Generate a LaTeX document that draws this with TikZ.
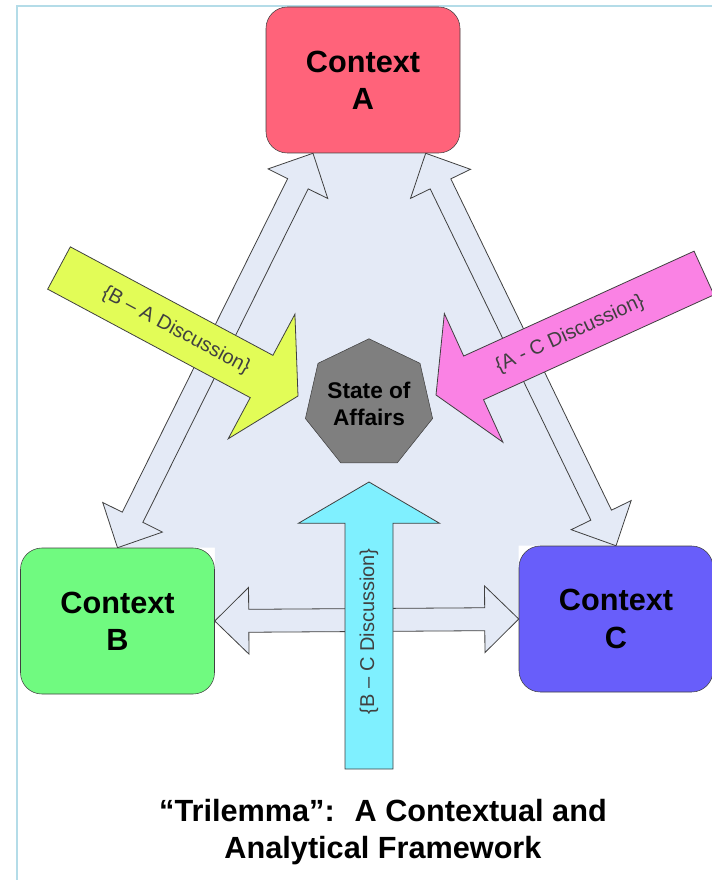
\documentclass[tikz,border=0pt]{standalone}
\usepackage{fontspec}
\setmainfont{Liberation Sans}
\usepackage{tikz}
\usetikzlibrary{calc,shapes.geometric,backgrounds}

\definecolor{ctxa}{RGB}{255,99,122}
\definecolor{ctxb}{RGB}{112,250,128}
\definecolor{ctxc}{RGB}{104,94,250}
\definecolor{talkba}{RGB}{226,252,87}
\definecolor{talkac}{RGB}{250,130,228}
\definecolor{talkbc}{RGB}{127,240,255}
\definecolor{affairs}{RGB}{127,127,127}
\definecolor{linkfill}{RGB}{228,234,246}
\definecolor{framecol}{RGB}{180,220,232}
\definecolor{edgegray}{RGB}{64,64,64}

\tikzset{
	context/.style={draw=edgegray, rounded corners=16pt, minimum width=145.5pt, minimum height=109.5pt,
		align=center, font=\fontsize{23}{28}\selectfont\bfseries},
	linkarrow/.style={draw=edgegray, fill=linkfill, line width=0.6pt},
	talkarrow/.style={draw=edgegray, line width=0.6pt},
	talklabel/.style={text=black!75, font=\fontsize{15}{18}\selectfont},
}

\newcommand{\twoway}[2]{%
	\draw[linkarrow] (#1) -- ($(#1)!25.5pt!(#2)!25pt!90:(#2)$) -- ($(#1)!25.5pt!(#2)!8.6pt!90:(#2)$)
	-- ($(#2)!25.5pt!(#1)!8.6pt!-90:(#1)$) -- ($(#2)!25.5pt!(#1)!25pt!-90:(#1)$) -- (#2)
	-- ($(#2)!25.5pt!(#1)!25pt!90:(#1)$) -- ($(#2)!25.5pt!(#1)!8.6pt!90:(#1)$)
	-- ($(#1)!25.5pt!(#2)!8.6pt!-90:(#2)$) -- ($(#1)!25.5pt!(#2)!25pt!-90:(#2)$) -- cycle;}
\newcommand{\oneway}[3]{%
	\draw[talkarrow, fill=#1] ($(#2)!18pt!90:(#3)$) -- ($(#3)!31pt!(#2)!18pt!-90:(#2)$)
	-- ($(#3)!31pt!(#2)!53pt!-90:(#2)$) -- (#3) -- ($(#3)!31pt!(#2)!53pt!90:(#2)$)
	-- ($(#3)!31pt!(#2)!18pt!90:(#2)$) -- ($(#2)!18pt!-90:(#3)$) -- cycle;}

\begin{document}
\begin{tikzpicture}
	[x=0.75pt, y=-0.75pt]
	\useasboundingbox (0,0) rectangle (712,880);
	\draw[framecol, line width=1.5pt] (17,880) -- (17,6) -- (712,6);
	
	\node[context, fill=ctxa] (A) at (363,80) {Context\\A};
	\node[context, fill=ctxb] (B) at (117.5,621) {Context\\B};
	\node[context, fill=ctxc] (C) at (616,619) {Context\\C};
	\coordinate (a-left) at ([xshift=-37.5pt]A.south);
	\coordinate (a-right) at ([xshift=47pt]A.south);
	
	\begin{pgfonlayer}{background}
		\fill[linkfill] (a-left) -- (a-right) -- (C.north) -- (C.north west) -- (C.west)
		-- (B.east) -- (B.north east) -- (B.north) -- cycle;
		\twoway{a-left}{B.north}
		\twoway{a-right}{C.north}
		\twoway{B.east}{C.west}
	\end{pgfonlayer}
	
	\coordinate (ba-tail) at (59,268);
	\coordinate (ba-tip) at (298,396);
	\coordinate (ac-tail) at (704,273);
	\coordinate (ac-tip) at (436,395);
	\coordinate (bc-tail) at (369,769);
	\coordinate (bc-tip) at (369,482);
	\foreach \col/\from/\to in {talkba/ba-tail/ba-tip, talkac/ac-tail/ac-tip, talkbc/bc-tail/bc-tip}
	\oneway{\col}{\from}{\to};
	\path (ba-tail) -- (ba-tip) node[talklabel, pos=.49, sloped] (ba-label) {\{B – A Discussion\}};
	\path (ac-tail) -- (ac-tip) node[talklabel, pos=.5, sloped] (ac-label) {\{A - C Discussion\}};
	\path (bc-tail) -- (bc-tip) node[talklabel, pos=.48, rotate=90] (bc-label) {\{B – C Discussion\}};
	
	\node[regular polygon, regular polygon sides=7, minimum size=89pt, inner sep=0pt, draw=edgegray,
		fill=affairs, align=center, font=\fontsize{17}{20}\selectfont\bfseries] (state) at (369,404) {State of\\Affairs};
	
	\node[align=center, inner sep=0pt, font=\fontsize{23}{28}\selectfont\bfseries] (title) at (383,832)
		{“Trilemma”:~ A Contextual and\\Analytical Framework};
\end{tikzpicture}
\end{document}
